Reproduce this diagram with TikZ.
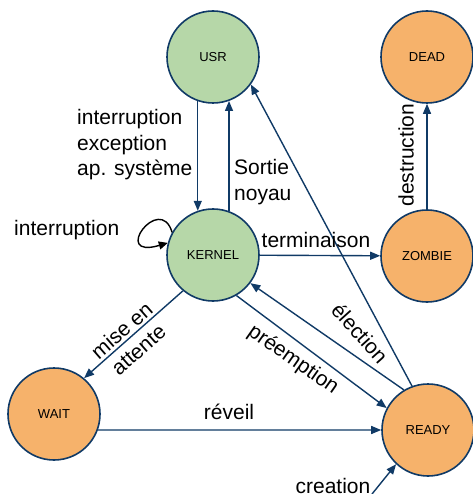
\documentclass[tikz,border=0pt]{standalone}
\usepackage{fontspec}
\setmainfont{Liberation Sans}
\usetikzlibrary{arrows.meta}
\definecolor{edgecol}{RGB}{16,58,102}
\definecolor{gfill}{RGB}{182,215,168}
\definecolor{ofill}{RGB}{246,178,107}
\begin{document}
\begin{tikzpicture}[x=1pt,y=-1pt,
  state/.style={circle,draw=edgecol,line width=1.6pt,minimum size=92pt,inner sep=0pt,font=\fontsize{13}{15}\selectfont},
  gst/.style={fill=gfill},
  ost/.style={fill=ofill},
  lbl/.style={font=\fontsize{21}{25.5}\selectfont,inner sep=0pt},
  tr/.style={draw=edgecol,line width=1.4pt,-{Triangle[length=10pt,width=8pt]}}
]
\useasboundingbox (0,0) rectangle (472,494);
\node[state,gst] (U) at (213,57) {USR};
\node[state,ost] (D) at (427,57) {DEAD};
\node[state,gst] (K) at (213,255) {KERNEL};
\node[state,ost] (Z) at (427,256) {ZOMBIE};
\node[state,ost] (W) at (54,414) {WAIT};
\node[state,ost] (R) at (428,430) {READY};
\coordinate (c) at (372,494);

\draw[tr] (U.-109) -- (K.109);
\draw[tr] (K.70) -- (U.-70);
\draw[tr] (K) -- (Z);
\draw[tr] (Z) -- (D);
\draw[tr] (R.110) -- (U.-36);
\draw[tr] (R.121) -- (K.-37);
\draw[tr] (K.-60) -- (R.152);
\draw[tr] (K.230) -- (W.50);
\draw[tr] (W.-20) -- (R.west);
\draw[tr] (c) -- (R.-133);
\draw[black,line width=1.4pt,-{Triangle[length=9pt,width=8pt]}] (K.151) .. controls (160,192) and (110,260) .. (K.165);

\node[lbl,align=left,anchor=west] (l1) at (77,145) {interruption\\exception\\ap. système};
\node[lbl,align=left,anchor=west] (l2) at (234,182) {Sortie\\noyau};
\node[lbl,anchor=west] (l3) at (14,230) {interruption};
\node[lbl] (l4) at (316,240) {terminaison};
\node[lbl,rotate=90] (l5) at (406,155) {destruction};
\node[lbl,rotate=-48] (l6) at (360,333) {élection};
\node[lbl,rotate=-35] (l7) at (293,360) {préemption};
\node[lbl,rotate=41,align=center] (l8) at (130,340) {mise en\\attente};
\node[lbl] (l9) at (229,412) {réveil};
\node[lbl] (l10) at (333,486) {creation};
\end{tikzpicture}
\end{document}
